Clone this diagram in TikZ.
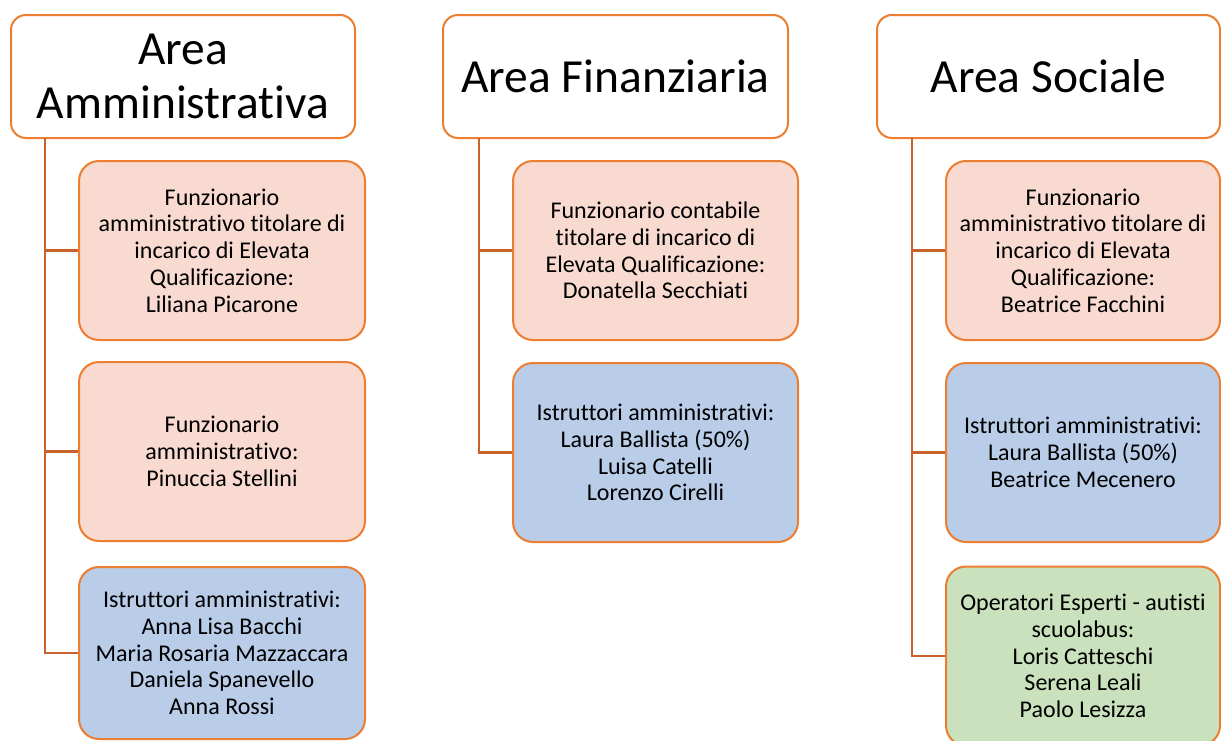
\documentclass[tikz,border=0pt]{standalone}
\usepackage{fontspec}
\setmainfont{Carlito}[Ligatures=NoCommon]
\definecolor{orng}{HTML}{ED7D31}
\definecolor{trunk}{HTML}{C8612A}
\definecolor{pinkf}{HTML}{F8DAD0}
\definecolor{bluef}{HTML}{B9CCE8}
\definecolor{greenf}{HTML}{C9E1BC}
\tikzset{
  hdr/.style={draw=orng, line width=2pt, fill=white, rounded corners=15pt,
    minimum width=344pt, minimum height=123pt, align=center,
    font=\fontsize{47.5}{54}\selectfont, inner sep=0pt},
  kid/.style={draw=orng, line width=2pt, rounded corners=20pt,
    minimum width=286pt, minimum height=179pt, align=center,
    font=\fontsize{24}{26.7}\selectfont, inner sep=0pt},
  pinkbox/.style={kid, fill=pinkf},
  bluebox/.style={kid, fill=bluef},
  greenbox/.style={kid, fill=greenf},
  conn/.style={draw=trunk, line width=2.5pt}
}
\begin{document}
\begin{tikzpicture}[x=1pt,y=-1pt]
\useasboundingbox (0,0) rectangle (1221,740);
% Column 1
\node[hdr] (h1) at (183,76.5) {Area\\Amministrativa};
\node[pinkbox] (a1) at (222,250.5) {Funzionario\\amministrativo titolare di\\incarico di Elevata\\Qualificazione:\\Liliana Picarone};
\node[pinkbox] (a2) at (222,451.5) {Funzionario\\amministrativo:\\Pinuccia Stellini};
\node[bluebox, minimum height=172pt] (a3) at (222,653) {Istruttori amministrativi:\\Anna Lisa Bacchi\\Maria Rosaria Mazzaccara\\Daniela Spanevello\\Anna Rossi};
\coordinate (t1) at (45,138);
\draw[conn] (t1) |- (a3.west);
\draw[conn] (t1 |- a1.west) -- (a1.west);
\draw[conn] (t1 |- a2.west) -- (a2.west);
% Column 2
\node[hdr, minimum width=345pt] (h2) at (615.5,76.5) {Area Finanziaria};
\node[pinkbox, minimum width=285pt] (b1) at (655.5,250.5) {Funzionario contabile\\titolare di incarico di\\Elevata Qualificazione:\\Donatella Secchiati};
\node[bluebox, minimum width=285pt] (b2) at (655.5,452.5) {Istruttori amministrativi:\\Laura Ballista (50\%)\\Luisa Catelli\\Lorenzo Cirelli};
\coordinate (t2) at (479,138);
\draw[conn] (t2) |- (b2.west);
\draw[conn] (t2 |- b1.west) -- (b1.west);
% Column 3
\node[hdr, minimum width=343pt] (h3) at (1048.5,76.5) {Area Sociale};
\node[pinkbox, minimum width=274pt] (c1) at (1083,250.5) {Funzionario\\amministrativo titolare di\\incarico di Elevata\\Qualificazione:\\Beatrice Facchini};
\node[bluebox, minimum width=274pt] (c2) at (1083,452.5) {Istruttori amministrativi:\\Laura Ballista (50\%)\\Beatrice Mecenero};
\node[greenbox, minimum width=274pt] (c3) at (1083,656) {Operatori Esperti - autisti\\scuolabus:\\Loris Catteschi\\Serena Leali\\Paolo Lesizza};
\coordinate (t3) at (912,138);
\draw[conn] (t3) |- (c3.west);
\draw[conn] (t3 |- c1.west) -- (c1.west);
\draw[conn] (t3 |- c2.west) -- (c2.west);
\end{tikzpicture}
\end{document}
